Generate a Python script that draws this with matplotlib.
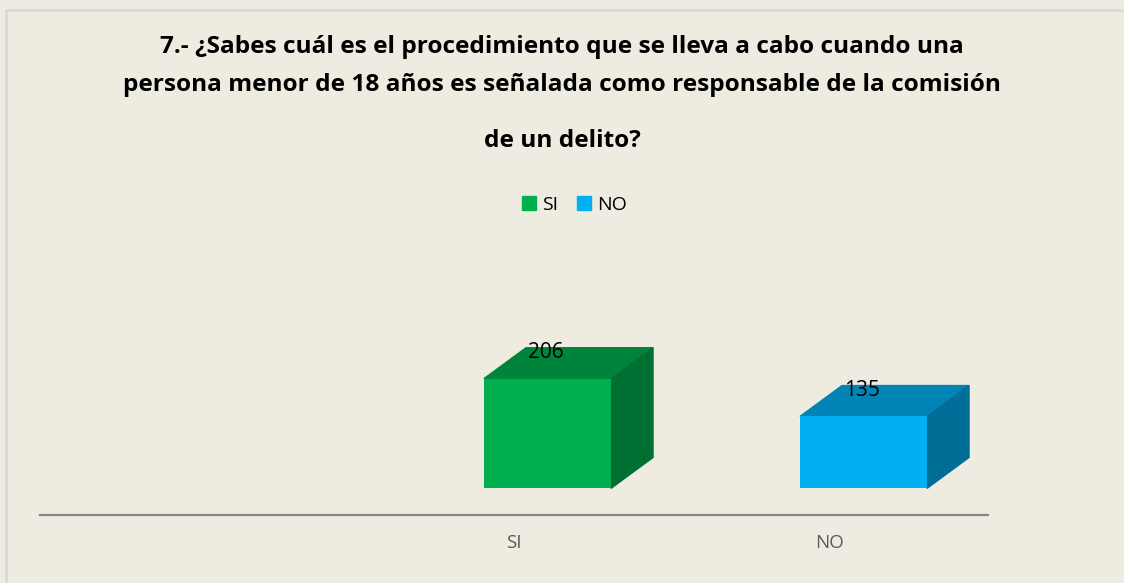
import matplotlib.pyplot as plt
from matplotlib.patches import Polygon
from matplotlib.lines import Line2D

# data
categories = ['', 'SI', 'NO']
values = [None, 206, 135]
front_colors = [None, '#00B050', '#00B0F0']
top_colors = [None, '#00843C', '#0084B5']
side_colors = [None, '#007032', '#006F98']

title_lines = ['7.- ¿Sabes cuál es el procedimiento que se lleva a cabo cuando una',
               'persona menor de 18 años es señalada como responsable de la comisión',
               'de un delito?']

plt.rcParams['font.family'] = ['Open Sans', 'DejaVu Sans']

bg = '#EEECE1'
fig = plt.figure(figsize=(11.24, 5.83), dpi=100, facecolor=bg)
ax = fig.add_axes([40 / 1124, 68 / 583, 948 / 1124, 285 / 583])
ax.set_facecolor(bg)

# 3d look: offsets of the back face
x_off = -0.095
bar_w = 0.402
dx = 0.133
dy = 58

for i, (cat, v) in enumerate(zip(categories, values)):
    if v is None:
        continue
    x0 = i + x_off
    x1 = x0 + bar_w
    ax.bar(x0, v, width=bar_w, align='edge', bottom=0, color=front_colors[i], zorder=3)
    top = Polygon([(x0, v), (x1, v), (x1 + dx, v + dy), (x0 + dx, v + dy)],
                  closed=True, color=top_colors[i], zorder=2)
    side = Polygon([(x1, 0), (x1, v), (x1 + dx, v + dy), (x1 + dx, dy)],
                   closed=True, color=side_colors[i], zorder=2)
    ax.add_patch(top)
    ax.add_patch(side)
    ax.text(i + 0.10, v + 49, str(v), ha='center', va='center', fontsize=15,
            color='black', zorder=5)

ax.set_xlim(-0.5, 2.5)
ax.set_ylim(-50, 485)
ax.set_xticks(range(len(categories)))
ax.set_xticklabels(categories, fontsize=13.5, color='#595959')
ax.tick_params(axis='x', length=0, pad=14)
ax.set_yticks([])
for s in ['top', 'right', 'left']:
    ax.spines[s].set_visible(False)
ax.spines['bottom'].set_color('#868686')
ax.spines['bottom'].set_linewidth(1.6)

# title
for line, ypx in zip(title_lines, [47, 85, 141]):
    fig.text(0.5, 1 - ypx / 583, line, ha='center', va='center',
             fontsize=17.6, fontweight='bold')

# legend
handles = [Line2D([], [], marker='s', linestyle='none', markersize=9.5,
                  color=front_colors[i]) for i in (1, 2)]
fig.legend(handles, ['SI', 'NO'], loc='center', bbox_to_anchor=(574 / 1124, 1 - 205 / 583),
           ncol=2, frameon=False, fontsize=14, handlelength=0.8, handletextpad=0.3,
           columnspacing=0.9)

# chart border
fig.add_artist(Line2D([6 / 1124, 1], [1 - 10 / 583, 1 - 10 / 583], color='#D9D9D9', lw=2))
fig.add_artist(Line2D([6 / 1124, 6 / 1124], [0, 1 - 10 / 583], color='#D9D9D9', lw=2))

fig.savefig('out.png', dpi=100, facecolor=bg)
